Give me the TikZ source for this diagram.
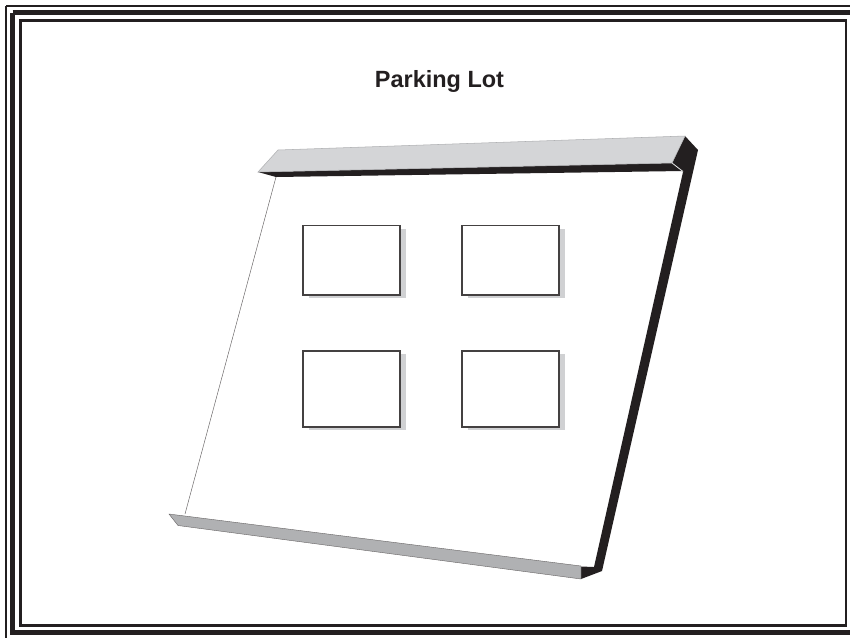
\documentclass[tikz,border=0pt]{standalone}
\usepackage{fontspec}
\setmainfont{Liberation Sans}
\definecolor{ink}{HTML}{231F20}
\definecolor{topgray}{HTML}{D4D5D7}
\definecolor{lowgray}{HTML}{B0B1B3}
\definecolor{shadowgray}{HTML}{D0D1D3}
\tikzset{
  px/.style={x=0.75pt,y=-0.75pt},
  frameline/.style={draw=ink,fill=none,line width=#1*0.75pt,line join=miter},
  shadowbox/.style={fill=shadowgray,draw=none},
  lotbox/.style={draw=ink!85,fill=white,line width=1.1pt,line join=miter},
  inkface/.style={fill=ink,draw=none},
  titletext/.style={font=\bfseries\fontsize{17.6pt}{20pt}\selectfont,text=ink,inner sep=0pt,anchor=base}
}
\begin{document}
\begin{tikzpicture}[px]
\useasboundingbox (0,0) rectangle (850,637);
\fill[white] (0,0) rectangle (850,637);
% frame
\draw[frameline=2.5] (6.2,6.2) -- (852,6.2);
\draw[frameline=2.5] (6.2,6.2) -- (6.2,640);
\draw[frameline=5] (12.5,12.5) -- (852,12.5);
\draw[frameline=5] (12.5,12.5) -- (12.5,632.5) -- (852,632.5);
\draw[frameline=2.5] (20.3,20.3) rectangle (846,625.5);
% title
\node[titletext] (title) at (439.5,87) {Parking Lot};
% top band, black underside
\fill[inkface] (258,172) -- (672,163) -- (682,171) -- (276,177) -- cycle;
% corner and side band
\fill[inkface] (685,136) -- (698,150) -- (602,571) -- (581,579) -- (581,566.5) -- (594,567) -- (683,172) -- (672,163) -- cycle;
\draw[white!70!lowgray,line width=0.6pt] (672,163) -- (683,171.5);
% top band, grey face
\fill[topgray,draw=lowgray,line width=0.4pt] (258,172) -- (278,150) -- (685,136) -- (672,163) -- cycle;
% lot left edge
\coordinate (lotTL) at (276,177);
\coordinate (lotBL) at (185,514);
\draw[draw=ink!70,line width=0.35pt] (lotTL) -- (lotBL);
% bottom band
\fill[lowgray,draw=ink!70,line width=0.3pt] (169,514) -- (581,566) -- (581,579) -- (178,525.5) -- cycle;
% boxes
\foreach \n/\xa/\ya/\xb/\yb in {a/303/225.5/400/295,b/462/225.5/559/295,c/303/351/400/427,d/462/351/559/427}{
  \fill[shadowbox] (\xa+6,\ya+3) rectangle (\xb+6,\yb+3);
  \node[lotbox,minimum width=97*0.75pt,minimum height=(\yb-\ya)*0.75pt,inner sep=0pt,anchor=north west,outer sep=0pt] (box\n) at (\xa,\ya) {};
}
\end{tikzpicture}
\end{document}
